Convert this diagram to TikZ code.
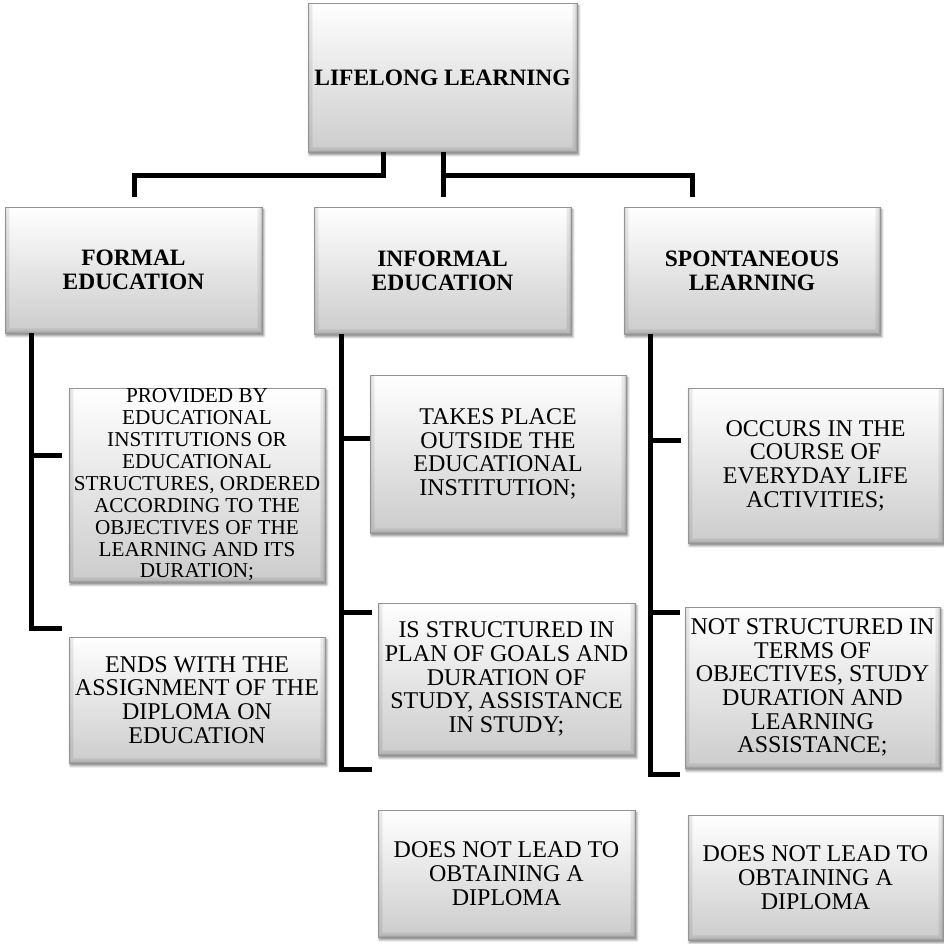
\documentclass[tikz,border=0pt]{standalone}
\usepackage{fontspec}
\setmainfont{Liberation Serif}
\usetikzlibrary{shadows.blur}

\tikzset{
  box/.style={rectangle, inner sep=0pt, align=center,
    top color=white, bottom color=black!20,
    draw=black!42, line width=0.6pt,
    blur shadow={shadow xshift=1.2pt, shadow yshift=-2pt,
      shadow blur steps=6, shadow opacity=50},
    path picture={
      % soft bevel along the left, right and bottom edges
      \foreach \d/\o in {0.5/0.20,1.4/0.13,2.3/0.08,3.2/0.04}{
        \draw[black, opacity=\o, line width=0.9pt]
          ([xshift=\d pt]path picture bounding box.north west)
          -- ([xshift=\d pt, yshift=\d pt]path picture bounding box.south west)
          -- ([xshift=-\d pt, yshift=\d pt]path picture bounding box.south east)
          -- ([xshift=-\d pt]path picture bounding box.north east);
      }
      % light rim along the top
      \draw[white, line width=1.5pt]
        (path picture bounding box.north west) -- (path picture bounding box.north east);
    }},
  % a box given by its corners (x1,y1) and (x2,y2), in picture units
  corners/.style n args={4}{
    minimum width={(#3-#1)*0.75pt}, minimum height={(#4-#2)*0.75pt},
    at={({(#1+#3)/2},{(#2+#4)/2})}},
  headbox/.style={box, font=\fontsize{17.6}{18}\selectfont\bfseries},
  textbox/.style={box, font=\fontsize{18}{17.8}\selectfont},
  smallbox/.style={box, font=\fontsize{15.9}{16.4}\selectfont},
  conn/.style={draw=black, line width=3.75pt, line join=miter},
}

\begin{document}
\begin{tikzpicture}[x=0.75pt, y=-0.75pt]
\useasboundingbox (0,0) rectangle (944,943);

% root and the three kinds of learning
\node[headbox, corners={308}{3}{577}{152}] (root) {LIFELONG LEARNING};
\node[headbox, corners={5}{207}{262}{333}] (formal) {FORMAL\\EDUCATION};
\node[headbox, corners={314}{207}{571}{334}] (informal) {INFORMAL\\EDUCATION};
\node[headbox, corners={624}{207}{880}{334}] (spont) {SPONTANEOUS\\LEARNING};

% formal education
\node[smallbox, corners={69}{388}{325}{582}] (fa) {PROVIDED BY\\EDUCATIONAL\\INSTITUTIONS OR\\EDUCATIONAL\\STRUCTURES, ORDERED\\ACCORDING TO THE\\OBJECTIVES OF THE\\LEARNING AND ITS\\DURATION;};
\node[textbox, corners={69}{637}{325}{763}] (fb) {ENDS WITH THE\\ASSIGNMENT OF THE\\DIPLOMA ON\\EDUCATION};

% informal education
\node[textbox, corners={370}{375}{626}{533}] (ia) {TAKES PLACE\\OUTSIDE THE\\EDUCATIONAL\\INSTITUTION;};
\node[textbox, corners={378}{603}{635}{755}] (ib) {IS STRUCTURED IN\\PLAN OF GOALS AND\\DURATION OF\\STUDY, ASSISTANCE\\IN STUDY;};
\node[textbox, corners={378}{810}{635}{937}] (ic) {DOES NOT LEAD TO\\OBTAINING A\\DIPLOMA};

% spontaneous learning
\node[textbox, corners={688}{388}{943}{543}] (sa) {OCCURS IN THE\\COURSE OF\\EVERYDAY LIFE\\ACTIVITIES;};
\node[textbox, corners={685}{607}{940}{768}] (sb) {NOT STRUCTURED IN\\TERMS OF\\OBJECTIVES, STUDY\\DURATION AND\\LEARNING\\ASSISTANCE;};
\node[textbox, corners={688}{815}{943}{940}] (sc) {DOES NOT LEAD TO\\OBTAINING A\\DIPLOMA};

% connector guide points
\coordinate (xa) at (383,0);
\coordinate (xb) at (443,0);
\coordinate (bar) at (0,175);
\coordinate (fl) at (134,197);
\coordinate (fm) at (443,197);
\coordinate (fr) at (692,197);

\coordinate (tf) at (31,0);
\coordinate (f1) at (62,455);
\coordinate (f2) at (62,628);

\coordinate (ti) at (341,0);
\coordinate (i1) at (370,438);
\coordinate (i2) at (372,612);
\coordinate (i3) at (372,769);

\coordinate (ts) at (650,0);
\coordinate (s1) at (681,440);
\coordinate (s2) at (680,612);
\coordinate (s3) at (680,774);

% top level connectors
\draw[conn] (root.south -| xa) |- (fl |- bar) -- (fl);
\draw[conn] (root.south -| xb) -- (fm);
\draw[conn] (xb |- bar) -| (fr);

% formal column
\draw[conn] (formal.south -| tf) |- (f2);
\draw[conn] (tf |- f1) -- (f1);

% informal column
\draw[conn] (informal.south -| ti) |- (i3);
\draw[conn] (ti |- i1) -- (i1);
\draw[conn] (ti |- i2) -- (i2);

% spontaneous column
\draw[conn] (spont.south -| ts) |- (s3);
\draw[conn] (ts |- s1) -- (s1);
\draw[conn] (ts |- s2) -- (s2);
\end{tikzpicture}
\end{document}
